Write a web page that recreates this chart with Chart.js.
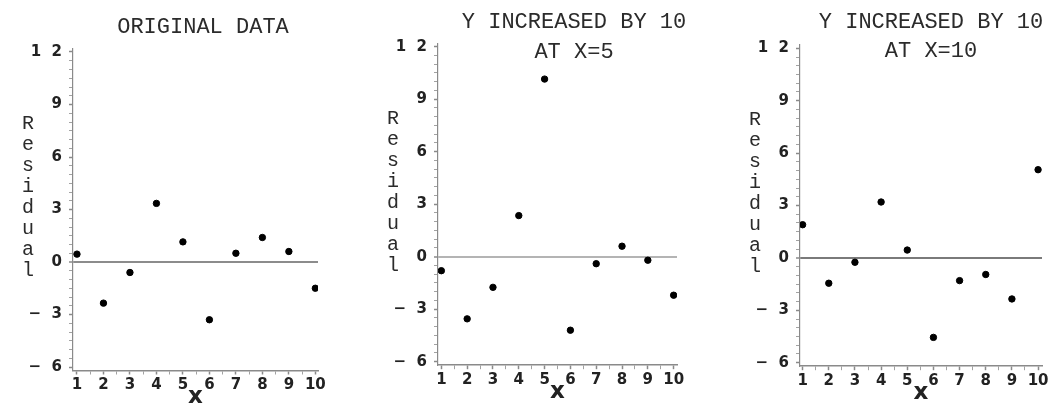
<!DOCTYPE html>
<html>
<head>
<meta charset="utf-8">
<script src="https://cdn.jsdelivr.net/npm/chart.js@4/dist/chart.umd.min.js"></script>
<style>
  html, body { margin: 0; padding: 0; background: #fff; overflow: hidden; }
  #wrap { position: relative; width: 1056px; height: 403px; }
  #wrap canvas { position: absolute; top: 0; }
</style>
</head>
<body>
<div id="wrap">
  <canvas id="panel0" width="352" height="410" style="left:0px"></canvas>
  <canvas id="panel1" width="352" height="410" style="left:352px"></canvas>
  <canvas id="panel2" width="352" height="410" style="left:704px"></canvas>
</div>
<script>
// residuals
const xValues = [1, 2, 3, 4, 5, 6, 7, 8, 9, 10];
const residualOriginal = [0.45, -2.35, -0.6, 3.35, 1.15, -3.3, 0.5, 1.4, 0.6, -1.5];
const residualAtX5 = [-0.8, -3.55, -1.75, 2.35, 10.15, -4.2, -0.4, 0.6, -0.2, -2.2];
const residualAtX10 = [1.9, -1.45, -0.25, 3.2, 0.45, -4.55, -1.3, -0.95, -2.35, 5.05];
const yTickValues = [-6, -3, 0, 3, 6, 9, 12];
const titleOriginal = ['ORIGINAL DATA'];
const titleAtX5 = ['Y INCREASED BY 10', 'AT X=5'];
const titleAtX10 = ['Y INCREASED BY 10', 'AT X=10'];
const yAxisLabel = 'Residual';
const xAxisLabel = 'x';

// per panel placement (canvas px)
const layouts = [
    { L: 73, R: 318, T: 48.5, B: 370.5, xMin: 0.85, xMax: 10.1, titleX: 203, titleY: [27], zero: '#8c8c8c' },
    { L: 86, R: 325, T: 43.2, B: 365.2, xMin: 0.87, xMax: 10.13, titleX: 222, titleY: [22, 52], zero: '#b4b4b4' },
    { L: 96, R: 338, T: 44.8, B: 366.2, xMin: 0.9, xMax: 10.15, titleX: 227, titleY: [22, 51], zero: '#7a7a7a' }
];

const Y_W = 62;
const X_H = 38;
const CANVAS_H = 410;
const tickFont = { family: 'DejaVu Sans', size: 15, weight: 'bold' };

const panelText = {
    id: 'panelText',
    afterDraw(chart, args, opts) {
        const ctx = chart.ctx;
        const area = chart.chartArea;
        ctx.save();
        ctx.fillStyle = '#2b2b2b';
        ctx.textAlign = 'center';
        ctx.textBaseline = 'middle';
        ctx.font = '22px "Liberation Mono"';
        opts.title.forEach((line, i) => ctx.fillText(line, opts.titleX, opts.titleY[i]));

        ctx.font = '20px "Liberation Mono"';
        const letters = yAxisLabel.split('');
        const mid = (area.top + area.bottom) / 2 - 12;
        const gap = 21;
        letters.forEach((ch, i) => {
            ctx.fillText(ch, area.left - 45, mid + (i - (letters.length - 1) / 2) * gap);
        });
        ctx.restore();
    }
};

function makePanel(id, values, title, lay) {
    const points = xValues.map((x, i) => ({ x: x, y: values[i] }));
    return new Chart(document.getElementById(id), {
        type: 'scatter',
        data: {
            datasets: [{
                data: points,
                backgroundColor: '#000',
                borderColor: '#000',
                pointRadius: 3.2,
                pointHoverRadius: 3.2
            }]
        },
        options: {
            responsive: false,
            animation: false,
            events: [],
            layout: {
                padding: {
                    left: lay.L - Y_W,
                    right: 352 - lay.R,
                    top: lay.T,
                    bottom: CANVAS_H - lay.B - X_H
                }
            },
            plugins: {
                legend: { display: false },
                tooltip: { enabled: false },
                panelText: { title: title, titleX: lay.titleX, titleY: lay.titleY }
            },
            scales: {
                x: {
                    type: 'linear',
                    min: lay.xMin,
                    max: lay.xMax,
                    afterFit: (s) => { s.height = X_H; },
                    border: { color: '#8a8a8a', width: 1.5, dash: [2, 1] },
                    grid: {
                        color: 'rgba(0,0,0,0)',
                        tickColor: '#8a8a8a',
                        tickLength: 4,
                        tickWidth: (c) => (c.tick && Number.isInteger(c.tick.value) ? 1.5 : 0.8)
                    },
                    ticks: {
                        stepSize: 0.5,
                        autoSkip: false,
                        includeBounds: false,
                        maxRotation: 0,
                        padding: 2,
                        color: '#222',
                        font: tickFont,
                        callback: (v) => (Number.isInteger(v) && xValues.includes(v) ? String(v) : '')
                    },
                    title: {
                        display: true,
                        text: xAxisLabel,
                        color: '#222',
                        padding: 0,
                        font: { family: 'DejaVu Sans', size: 23, weight: 'bold', lineHeight: 1 }
                    }
                },
                y: {
                    type: 'linear',
                    min: -6.2,
                    max: 12.2,
                    afterFit: (s) => { s.width = Y_W; },
                    border: { color: '#8a8a8a', width: 1.2 },
                    grid: {
                        color: (c) => (c.tick && c.tick.value === 0 ? lay.zero : 'rgba(0,0,0,0)'),
                        lineWidth: (c) => (c.tick && c.tick.value === 0 ? 2 : 1),
                        tickColor: '#8a8a8a',
                        tickLength: 4,
                        tickWidth: (c) => (c.tick && yTickValues.includes(c.tick.value) ? 1.5 : 0.8)
                    },
                    ticks: {
                        stepSize: 0.5,
                        autoSkip: false,
                        includeBounds: false,
                        padding: 7,
                        color: '#222',
                        font: tickFont,
                        callback: (v) => {
                            if (!yTickValues.includes(v)) return '';
                            return String(v).replace('-', '−').split('').join('  ');
                        }
                    }
                }
            }
        },
        plugins: [panelText]
    });
}

makePanel('panel0', residualOriginal, titleOriginal, layouts[0]);
makePanel('panel1', residualAtX5, titleAtX5, layouts[1]);
makePanel('panel2', residualAtX10, titleAtX10, layouts[2]);
</script>
</body>
</html>
